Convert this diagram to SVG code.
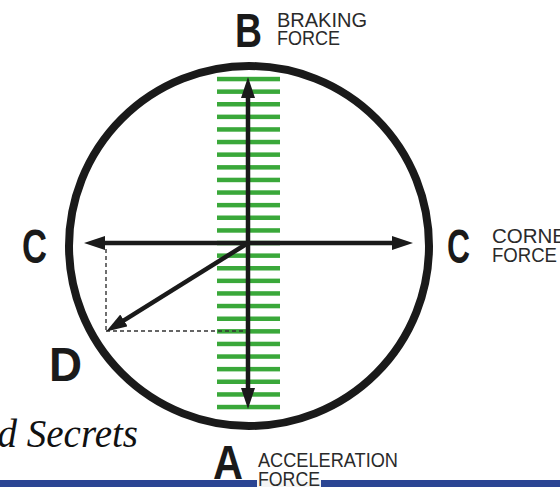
<svg xmlns="http://www.w3.org/2000/svg" width="560" height="487" viewBox="0 0 560 487">
<style>
.big{font-family:"Liberation Sans",Arial,sans-serif;font-weight:bold;font-size:48px;fill:#1a1a1a}
.small{font-family:"Liberation Sans",Arial,sans-serif;font-size:20.5px;fill:#2a2a2a}
.bar{fill:#3aa83a}
.arrow{stroke:#1a1a1a;stroke-width:4.5;fill:none}
.dash{stroke:#333;stroke-width:1.4;stroke-dasharray:4 3;fill:none}
.ital{font-family:"Liberation Serif","Times New Roman",serif;font-style:italic;font-size:39px;fill:#111}
</style>
<defs>
<marker id="ah" markerUnits="userSpaceOnUse" markerWidth="22" markerHeight="16" refX="10" refY="7" orient="auto-start-reverse">
<path d="M0,0 L21,7 L0,14 z" fill="#1a1a1a"/>
</marker>
</defs>
<rect width="560" height="487" fill="#fff"/>
<g id="bars">
<rect class="bar" x="217" y="76.8" width="63" height="4.5"/>
<rect class="bar" x="217" y="89.4" width="63" height="4.5"/>
<rect class="bar" x="217" y="102" width="63" height="4.5"/>
<rect class="bar" x="217" y="114.6" width="63" height="4.5"/>
<rect class="bar" x="217" y="127.2" width="63" height="4.5"/>
<rect class="bar" x="217" y="139.8" width="63" height="4.5"/>
<rect class="bar" x="217" y="152.4" width="63" height="4.5"/>
<rect class="bar" x="217" y="165.1" width="63" height="4.5"/>
<rect class="bar" x="217" y="177.7" width="63" height="4.5"/>
<rect class="bar" x="217" y="190.3" width="63" height="4.5"/>
<rect class="bar" x="217" y="202.9" width="63" height="4.5"/>
<rect class="bar" x="217" y="215.5" width="63" height="4.5"/>
<rect class="bar" x="217" y="228.2" width="63" height="4.5"/>
<rect class="bar" x="217" y="240.8" width="63" height="4.5"/>
<rect class="bar" x="217" y="253.4" width="63" height="4.5"/>
<rect class="bar" x="217" y="266" width="63" height="4.5"/>
<rect class="bar" x="217" y="278.6" width="63" height="4.5"/>
<rect class="bar" x="217" y="291.2" width="63" height="4.5"/>
<rect class="bar" x="217" y="303.8" width="63" height="4.5"/>
<rect class="bar" x="217" y="316.5" width="63" height="4.5"/>
<rect class="bar" x="217" y="329.1" width="63" height="4.5"/>
<rect class="bar" x="217" y="341.7" width="63" height="4.5"/>
<rect class="bar" x="217" y="354.3" width="63" height="4.5"/>
<rect class="bar" x="217" y="366.9" width="63" height="4.5"/>
<rect class="bar" x="217" y="379.5" width="63" height="4.5"/>
<rect class="bar" x="217" y="392.2" width="63" height="4.5"/>
<rect class="bar" x="217" y="404.8" width="63" height="4.5"/>
</g>
<g id="circle">
<circle cx="249" cy="246" r="180" fill="none" stroke="#1a1a1a" stroke-width="8"/>
</g>
<g id="connectors">
<line class="dash" x1="106" y1="249" x2="106" y2="331"/>
<line class="dash" x1="106" y1="331" x2="245" y2="331"/>
<line class="arrow" x1="248" y1="88" x2="248" y2="398" marker-start="url(#ah)" marker-end="url(#ah)"/>
<line class="arrow" x1="95" y1="243" x2="402" y2="243" marker-start="url(#ah)" marker-end="url(#ah)"/>
<line class="arrow" x1="248" y1="243" x2="115.5" y2="325.7" marker-end="url(#ah)"/>
</g>
<g id="nodeB">
<text class="big" x="235" y="47" textLength="27" lengthAdjust="spacingAndGlyphs">B</text>
<text class="small" x="277" y="27" textLength="90" lengthAdjust="spacingAndGlyphs">BRAKING</text>
<text class="small" x="277" y="45" textLength="63" lengthAdjust="spacingAndGlyphs">FORCE</text>
</g>
<g id="nodeCleft">
<text class="big" x="22" y="263" textLength="25" lengthAdjust="spacingAndGlyphs">C</text>
</g>
<g id="nodeCright">
<text class="big" x="447" y="263" textLength="23" lengthAdjust="spacingAndGlyphs">C</text>
<text class="small" x="492" y="243">CORNERING</text>
<text class="small" x="492" y="262" textLength="65" lengthAdjust="spacingAndGlyphs">FORCE</text>
</g>
<g id="nodeD">
<text class="big" x="49" y="381" textLength="33" lengthAdjust="spacingAndGlyphs">D</text>
</g>
<g id="caption">
<text class="ital" x="138" y="447" text-anchor="end">d Secrets</text>
</g>
<rect x="0" y="480" width="560" height="7" fill="#2b4593"/>
<rect x="257" y="480" width="64" height="7" fill="#f4f4f4"/>
<g id="nodeA">
<text class="big" x="213" y="479" textLength="30" lengthAdjust="spacingAndGlyphs">A</text>
<text class="small" x="258" y="467" textLength="140" lengthAdjust="spacingAndGlyphs">ACCELERATION</text>
<text class="small" x="258" y="486" textLength="62" lengthAdjust="spacingAndGlyphs">FORCE</text>
</g>
</svg>
